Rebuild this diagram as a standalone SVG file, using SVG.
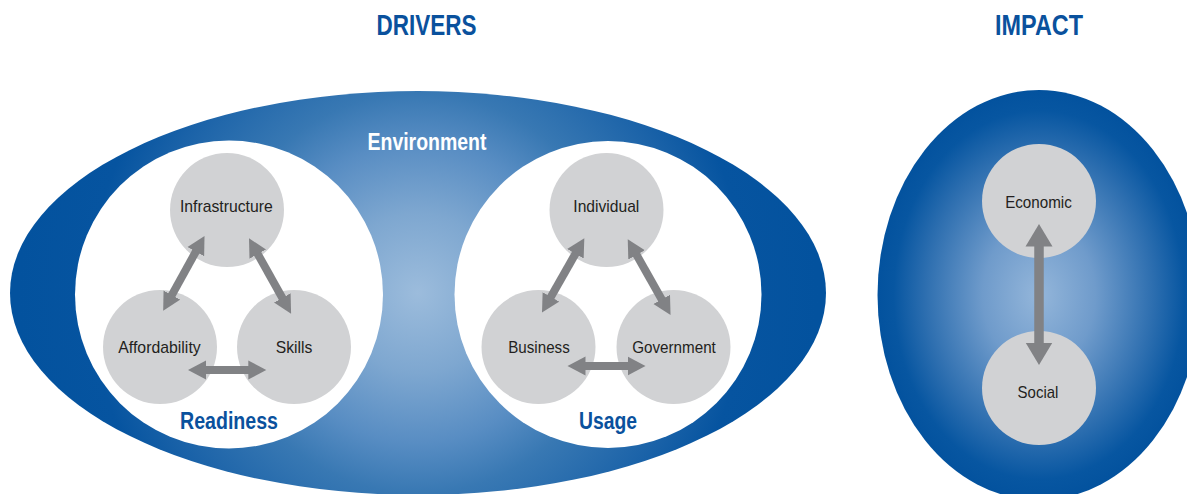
<svg xmlns="http://www.w3.org/2000/svg" width="1187" height="494" viewBox="0 0 1187 494">
  <defs>
    <radialGradient id="gEnv" gradientUnits="userSpaceOnUse" cx="418" cy="293" r="400">
      <stop offset="0" stop-color="#9cbcdc"/>
      <stop offset="0.2" stop-color="#7ea7d0"/>
      <stop offset="0.375" stop-color="#588dc3"/>
      <stop offset="0.5" stop-color="#3878b3"/>
      <stop offset="0.7" stop-color="#1a62a8"/>
      <stop offset="0.82" stop-color="#0654a0"/>
      <stop offset="1" stop-color="#03529e"/>
    </radialGradient>
    <radialGradient id="gImp" cx="0.5" cy="0.5" r="0.5">
      <stop offset="0" stop-color="#94b6da"/>
      <stop offset="0.35" stop-color="#6f9bcb"/>
      <stop offset="0.7" stop-color="#2e6fb0"/>
      <stop offset="0.9" stop-color="#0756a1"/>
      <stop offset="1" stop-color="#03529e"/>
    </radialGradient>
    <marker id="headS" markerUnits="userSpaceOnUse" markerWidth="20" markerHeight="20" viewBox="0 -10 20 20" refX="1" refY="0" orient="auto-start-reverse">
      <path d="M0,-9.5 L18,0 L0,9.5 Z" fill="#818285"/>
    </marker>
    <marker id="headL" markerUnits="userSpaceOnUse" markerWidth="26" markerHeight="30" viewBox="0 -15 26 30" refX="1" refY="0" orient="auto-start-reverse">
      <path d="M0,-13.5 L22.5,0 L0,13.5 Z" fill="#818285"/>
    </marker>
    <style>
      .title{font-family:"Liberation Sans Narrow","Liberation Sans",Arial,sans-serif;font-weight:bold;fill:#0a519d;text-anchor:middle}
      .group{font-family:"Liberation Sans Narrow","Liberation Sans",Arial,sans-serif;font-weight:bold;text-anchor:middle;font-size:23px}
      .node circle{fill:#d1d2d4}
      .node text{font-family:"Liberation Sans Narrow","Liberation Sans",Arial,sans-serif;font-size:17px;fill:#231f20;text-anchor:middle}
      .arr{stroke:#818285;stroke-width:8;fill:none;marker-start:url(#headS);marker-end:url(#headS)}
      .arrL{stroke:#818285;stroke-width:9.5;fill:none;marker-start:url(#headL);marker-end:url(#headL)}
    </style>
  </defs>

  <text class="title" x="426.5" y="35" font-size="29" textLength="100" lengthAdjust="spacingAndGlyphs">DRIVERS</text>
  <text class="title" x="1039" y="35" font-size="29" textLength="88" lengthAdjust="spacingAndGlyphs">IMPACT</text>

  <g id="environment">
    <ellipse cx="418" cy="293" rx="408" ry="202" fill="url(#gEnv)"/>
    <text class="group" x="427" y="150" fill="#ffffff" textLength="119" lengthAdjust="spacingAndGlyphs">Environment</text>
  </g>

  <g id="readiness">
    <circle cx="229" cy="294.5" r="154" fill="#ffffff"/>
    <text class="group" x="229" y="429" fill="#0a519d" textLength="98" lengthAdjust="spacingAndGlyphs">Readiness</text>
  </g>

  <g id="usage">
    <circle cx="608" cy="294.5" r="153.5" fill="#ffffff"/>
    <text class="group" x="608" y="429" fill="#0a519d" textLength="58" lengthAdjust="spacingAndGlyphs">Usage</text>
  </g>

  <g id="impact">
    <ellipse cx="1039" cy="295" rx="161.5" ry="205" fill="url(#gImp)"/>
  </g>

  <g id="infrastructure" class="node">
    <circle cx="227" cy="210" r="57"/>
    <text x="226.3" y="212.3" textLength="92.7" lengthAdjust="spacingAndGlyphs">Infrastructure</text>
  </g>
  <g id="affordability" class="node">
    <circle cx="160" cy="347" r="57"/>
    <text x="159.5" y="353.3" textLength="82.4" lengthAdjust="spacingAndGlyphs">Affordability</text>
  </g>
  <g id="skills" class="node">
    <circle cx="294" cy="347" r="57"/>
    <text x="294" y="353.3" textLength="36.6" lengthAdjust="spacingAndGlyphs">Skills</text>
  </g>

  <g id="individual" class="node">
    <circle cx="606.5" cy="210" r="57"/>
    <text x="606.3" y="211.7" textLength="66" lengthAdjust="spacingAndGlyphs">Individual</text>
  </g>
  <g id="business" class="node">
    <circle cx="538.5" cy="347" r="57"/>
    <text x="539" y="353.3" textLength="61.5" lengthAdjust="spacingAndGlyphs">Business</text>
  </g>
  <g id="government" class="node">
    <circle cx="673.5" cy="347" r="57"/>
    <text x="674" y="353.3" textLength="83.7" lengthAdjust="spacingAndGlyphs">Government</text>
  </g>

  <g id="economic" class="node">
    <circle cx="1039" cy="201" r="57"/>
    <text x="1038.5" y="208.3" textLength="66.7" lengthAdjust="spacingAndGlyphs">Economic</text>
  </g>
  <g id="social" class="node">
    <circle cx="1039" cy="388" r="57"/>
    <text x="1038" y="398" textLength="40.8" lengthAdjust="spacingAndGlyphs">Social</text>
  </g>

  <g id="connectors">
    <line class="arr" x1="196.3" y1="250.8" x2="171.4" y2="295.9"/>
    <line class="arr" x1="257.3" y1="253.2" x2="282.8" y2="298.8"/>
    <line class="arr" x1="205" y1="370" x2="249.3" y2="370"/>
    <line class="arr" x1="575.9" y1="252.9" x2="550.4" y2="297.7"/>
    <line class="arr" x1="636.1" y1="254.0" x2="662.2" y2="300.3"/>
    <line class="arr" x1="584.5" y1="366" x2="628.5" y2="366"/>
    <line class="arrL" x1="1039" y1="245.5" x2="1039" y2="343.5"/>
  </g>
</svg>
